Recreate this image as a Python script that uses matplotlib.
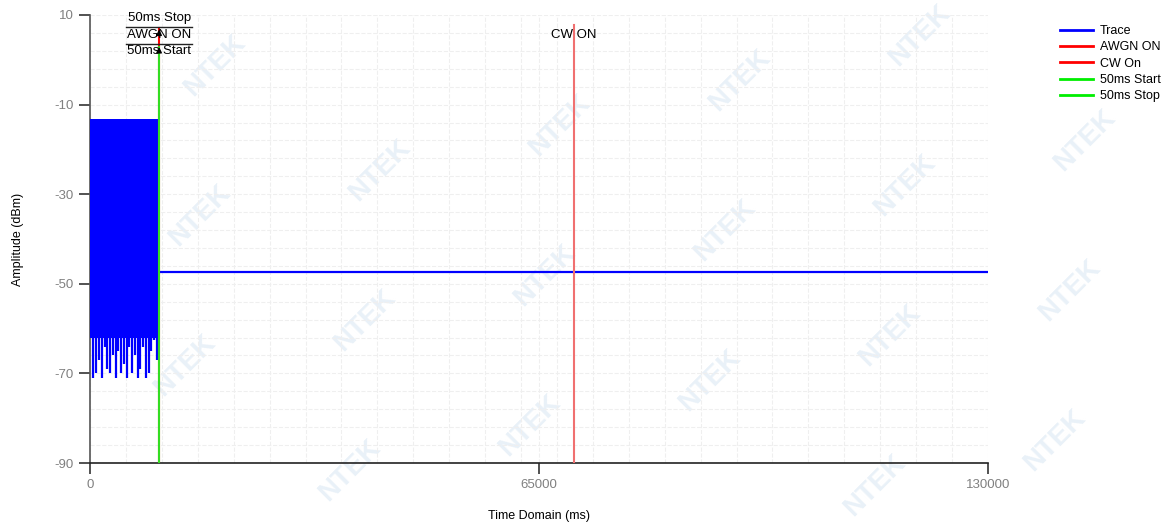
import numpy as np
import matplotlib.pyplot as plt
from matplotlib.lines import Line2D

plt.rcParams['font.family'] = ['Liberation Sans', 'DejaVu Sans']
plt.rcParams['axes.unicode_minus'] = False

# trace: noisy AWGN block (envelope) then flat CW level
block_start = 0
block_end = 9900
block_top = -13.2
block_bottom = -62.0
dip_times = [500, 900, 1300, 1700, 2100, 2500, 2900, 3300, 3700, 4100, 4500, 4900,
             5300, 5700, 6100, 6500, 6900, 7300, 7700, 8100, 8500, 8900, 9300, 9700]
dip_levels = [-71, -70, -67, -71, -64, -69, -70, -66, -71, -65, -70, -68,
              -71, -64, -70, -66, -71, -69, -64, -71, -70, -65, -62.5, -67]
flat_times = [10200, 130000]
flat_levels = [-47.3, -47.3]

marker_awgn = 10000
marker_start = 10000
marker_stop = 10000
marker_cw = 70000

x_ticks = [0, 65000, 130000]
y_ticks = [10, -10, -30, -50, -70, -90]

fig = plt.figure(figsize=(11.71, 5.25), dpi=100)
ax = fig.add_axes([90 / 1171, 1 - 463 / 525, 898 / 1171, 448 / 525])
ax.patch.set_alpha(0)

# faint watermark tiles
for r in range(-3, 4):
    for c in range(-3, 8):
        wx = 200 + c * 180 - r * 15
        wy = 215 - c * 45 + r * 150
        if 45 < wx < 1130 and 30 < wy < 495:
            fig.text(wx / 1171, 1 - wy / 525, 'NTEK', rotation=45, fontsize=20,
                     fontweight='bold', color='#e9f1f8', ha='center', va='center',
                     zorder=-5)

ax.set_xlim(0, 130000)
ax.set_ylim(-90, 10)
ax.set_xticks(np.linspace(0, 130000, 26), minor=True)
ax.set_yticks(np.linspace(-90, 10, 26), minor=True)
ax.grid(which='both', color='#efefef', linestyle='--', linewidth=0.8, zorder=0)
ax.tick_params(which='minor', length=0)
ax.set_xticks(x_ticks)
ax.set_yticks(y_ticks)
ax.tick_params(axis='both', colors='#333333', labelcolor='#808080', labelsize=9.5,
               length=8, width=1.2, direction='out')
for s in ['top', 'right']:
    ax.spines[s].set_visible(False)
ax.spines['left'].set_color('#555555')
ax.spines['bottom'].set_color('#222222')
ax.spines['left'].set_linewidth(1.2)
ax.spines['bottom'].set_linewidth(1.2)

ax.set_xlabel('Time Domain (ms)', fontsize=9, labelpad=14)
ax.set_ylabel('Amplitude (dBm)', fontsize=9, labelpad=22)

# trace
ax.fill_between([block_start, block_end], block_top, block_bottom, color='#0000ff',
                linewidth=0, zorder=3)
ax.vlines(dip_times, block_bottom + 0.5, dip_levels, color='#0000ff', linewidth=1.6, zorder=3)
ax.plot(flat_times, flat_levels, color='#0000ff', linewidth=1.6, zorder=3)

# markers
ax.plot([marker_cw, marker_cw], [7.8, -90], color='#f07070', linewidth=1.5, zorder=4)
ax.plot([marker_awgn, marker_awgn], [7.0, -90], color='#ff0000', linewidth=1.5, zorder=4)
ax.plot([marker_start, marker_start], [2.9, -90], color='#33dd22', linewidth=1.5, zorder=5)

ax.text(marker_cw, 5.5, 'CW ON', ha='center', va='center', fontsize=9.5, zorder=6)

ax.text(marker_stop, 9.4, '50ms Stop', ha='center', va='center', fontsize=9.5, clip_on=False, zorder=6)
ax.text(marker_awgn, 5.5, 'AWGN ON', ha='center', va='center', fontsize=9.5, zorder=6)
ax.text(marker_start, 1.9, '50ms Start', ha='center', va='center', fontsize=9.5, zorder=6)
ax.plot([5200, 14800], [7.4, 7.4], color='#222222', linewidth=1, zorder=6)
ax.plot([5200, 14800], [3.5, 3.5], color='#222222', linewidth=1, zorder=6)
ax.annotate('', xy=(marker_stop, 7.4), xytext=(marker_stop, 5.0),
            arrowprops=dict(arrowstyle='-|>', color='black', lw=1, mutation_scale=8), zorder=7)
ax.annotate('', xy=(marker_awgn, 3.5), xytext=(marker_awgn, 1.5),
            arrowprops=dict(arrowstyle='-|>', color='black', lw=1, mutation_scale=8), zorder=7)

handles = [Line2D([], [], color='#0000ff', lw=2),
           Line2D([], [], color='#ff0000', lw=2),
           Line2D([], [], color='#ff0000', lw=2),
           Line2D([], [], color='#00ee00', lw=2),
           Line2D([], [], color='#00ee00', lw=2)]
labels = ['Trace', 'AWGN ON', 'CW On', '50ms Start', '50ms Stop']
fig.legend(handles, labels, loc='upper left', bbox_to_anchor=(1055 / 1171, 1 - 20 / 525),
           frameon=False, fontsize=9, handlelength=2.6, handletextpad=0.6,
           labelspacing=0.35, borderaxespad=0)

fig.savefig('out.png', dpi=100)
